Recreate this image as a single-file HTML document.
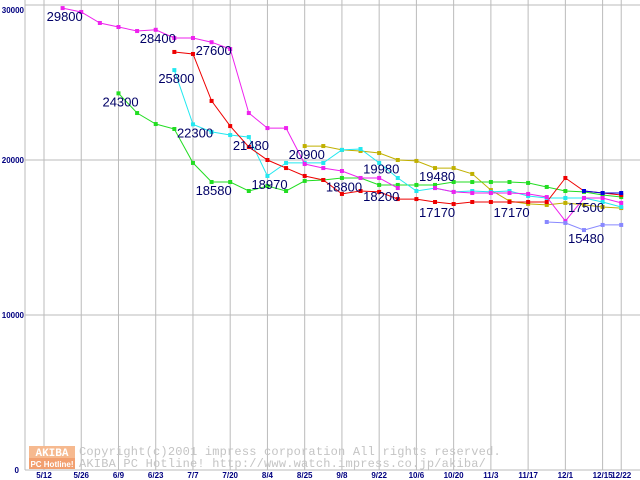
<!DOCTYPE html>
<html><head><meta charset="utf-8"><style>
html,body{margin:0;padding:0;background:#fff;}
svg{display:block;}
</style></head><body>
<svg id="chart" width="640" height="480" viewBox="0 0 640 480" xmlns="http://www.w3.org/2000/svg">
<rect x="0" y="0" width="640" height="480" fill="#fff"/>
<g id="grid"></g>
<g id="watermark">
  <rect x="29" y="446" width="46" height="12" fill="#f6b98f"/>
  <rect x="29" y="458" width="46" height="11" fill="#f2a070"/>
  <text x="52" y="456" font-family="Liberation Mono, monospace" font-size="11" font-weight="bold" fill="#fff" text-anchor="middle">AKIBA</text>
  <text x="52" y="467" font-family="Liberation Sans, sans-serif" font-size="8" font-weight="bold" fill="#fff" text-anchor="middle">PC Hotline!</text>
  <text x="79" y="455" font-family="Liberation Mono, monospace" font-size="12" letter-spacing="0.2" fill="#c4c4c4">Copyright(c)2001 impress corporation All rights reserved.</text>
  <text x="79" y="467" font-family="Liberation Mono, monospace" font-size="12" letter-spacing="0.2" fill="#c4c4c4">AKIBA PC Hotline!  http://www.watch.impress.co.jp/akiba/</text>
</g>
<g id="series"></g>
<g id="labels"></g>
<g id="axes"></g>
</svg>
<script>
const xTickLabels = ["5/12","5/26","6/9","6/23","7/7","7/20","8/4","8/25","9/8","9/22","10/6","10/20","11/3","11/17","12/1","12/15","12/22"];
const xTickIndex = [0,2,4,6,8,10,12,14,16,18,20,22,24,26,28,30,31];
const yTicks = [0,10000,20000,30000];
const N = 32;
const magenta = [null,29800,29550,28840,28580,28320,28400,27870,27870,27600,27160,23030,22060,22060,19740,19480,19290,18840,18840,18190,null,18190,17940,17870,17870,17870,17810,17610,16060,17550,17550,17230];
const red = [null,null,null,null,null,null,null,26970,26840,23810,22190,20840,20000,19480,18970,18710,17810,18000,17940,17480,17480,17290,17160,17290,17290,17290,17290,17290,18840,18000,17870,17740];
const cyan = [null,null,null,null,null,null,null,25800,22300,21810,21610,21480,18970,19810,19810,19810,20650,20710,19810,18840,18000,18190,17940,18000,17940,18000,17680,17550,17550,17550,17290,16970];
const green = [null,null,null,null,24300,23030,22320,22000,19810,18580,18580,18000,18320,18000,18650,18710,18840,18840,18390,18390,18390,18390,18580,18580,18580,18580,18520,18260,18000,17940,17740,17610];
const olive = [null,null,null,null,null,null,null,null,null,null,null,null,null,null,20900,20900,20650,20580,20450,20000,19940,19480,19480,19100,18060,17350,17170,17100,17230,17100,16970,16900];
const blue = [null,null,null,null,null,null,null,null,null,null,null,null,null,null,null,null,null,null,null,null,null,null,null,null,null,null,null,null,null,18000,17870,17870];
const lavender = [null,null,null,null,null,null,null,null,null,null,null,null,null,null,null,null,null,null,null,null,null,null,null,null,null,null,null,16000,15940,15480,15810,15810];
const seriesList = [["olive-series",olive,"#c0b000"],["green-series",green,"#22dd22"],["cyan-series",cyan,"#22e8f0"],["red-series",red,"#ee0000"],["magenta-series",magenta,"#ee22ee"],["blue-series",blue,"#0000dd"],["lavender-series",lavender,"#8888ff"]];
const labelTexts = ["29800","28400","27600","25800","24300","22300","21480","18580","18970","20900","18800","19980","18200","19480","17170","17170","17500","15480"];
const labelIndex = [1,6,9,7,4,8,11,9,12,14,16,18,18,21,21,25,29,29];
const labelValues = [29800,28400,27600,25800,24300,22300,21480,18580,18970,20900,18800,19980,18200,19480,17170,17170,17500,15480];

const NS="http://www.w3.org/2000/svg";
function xs(i){return 44+18.62*i;}
function ys(v){return 470-v*0.0155;}
function mk(tag,attrs,parent){const e=document.createElementNS(NS,tag);for(const k in attrs)e.setAttribute(k,attrs[k]);parent.appendChild(e);return e;}
const grid=document.getElementById('grid'),axes=document.getElementById('axes'),ser=document.getElementById('series'),lab=document.getElementById('labels');
yTicks.forEach(v=>{
  const l=mk('line',{x1:25,x2:640,y1:ys(v),y2:ys(v),stroke:'#bbbbbb','stroke-width':1},grid);
  
  
  const t=mk('text',{x:v===0?19:24,y:ys(v)+(v===30000?8:3),'text-anchor':'end','font-family':'Liberation Sans, sans-serif','font-size':8,'font-weight':'bold',fill:'#000080'},axes);
  t.textContent=v;
  
  
});
const ya=mk('line',{x1:25,x2:25,y1:0,y2:470,stroke:'#bbbbbb','stroke-width':1},grid);


xTickLabels.forEach((s,k)=>{
  const x=xs(xTickIndex[k]);
  const l=mk('line',{x1:x,x2:x,y1:0,y2:470,stroke:'#bbbbbb','stroke-width':1},grid);
  
  
  const t=mk('text',{x:x,y:478,'text-anchor':'middle','font-family':'Liberation Sans, sans-serif','font-size':8,'font-weight':'bold',fill:'#000080'},axes);
  t.textContent=s;
  
  
});
seriesList.forEach(([name,vals,col])=>{
  const g=mk('g',{},ser);
  
  
  let d='',pen=false;
  vals.forEach((v,i)=>{if(v==null){pen=false;return;}d+=(pen?'L':'M')+xs(i).toFixed(1)+' '+ys(v).toFixed(1)+' ';pen=true;});
  mk('path',{d:d,fill:'none',stroke:col,'stroke-width':1},g);
  vals.forEach((v,i)=>{if(v==null)return;
    const r=mk('rect',{x:xs(i)-2,y:ys(v)-2,width:4,height:4,fill:col},g);
    
    
  });
});
labelTexts.forEach((s,k)=>{
  const t=mk('text',{x:xs(labelIndex[k])-16,y:ys(labelValues[k])+13,'font-family':'Liberation Sans, sans-serif','font-size':13,fill:'#000066'},lab);
  t.textContent=s;
  
  
});
</script>
</body></html>
